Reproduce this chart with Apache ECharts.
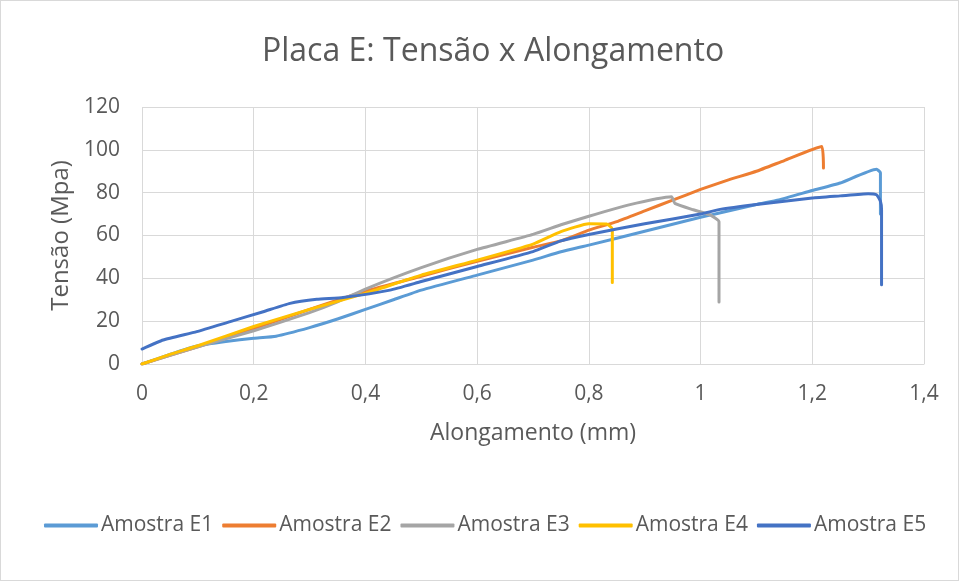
<!DOCTYPE html>
<html>
<head>
<meta charset="utf-8">
<script src="https://cdn.jsdelivr.net/npm/echarts@6/dist/echarts.min.js"></script>
<style>
  html, body { margin: 0; padding: 0; background: #ffffff; }
  #chart { width: 957px; height: 579px; border: 1px solid #D9D9D9; }
</style>
</head>
<body>
<div id="chart"></div>
<script>
// Stress vs. elongation curves for plate E, five specimens.
const seriesNames = ['Amostra E1', 'Amostra E2', 'Amostra E3', 'Amostra E4', 'Amostra E5'];
const seriesColors = ['#5B9BD5', '#ED7D31', '#A5A5A5', '#FFC000', '#4472C4'];

// [alongamento (mm), tensão (MPa)]
const amostraE1 = [
  [0, 0], [0.05, 4.5], [0.1, 8.5], [0.15, 10.5], [0.2, 12], [0.24, 13], [0.3, 17],
  [0.35, 21], [0.4, 25.5], [0.45, 30], [0.5, 34.5], [0.6, 41.5], [0.7, 48.5],
  [0.75, 52.4], [0.8, 55.5], [0.9, 62], [1.0, 68.5], [1.03, 70.3], [1.1, 74.5],
  [1.14, 76.6], [1.2, 81], [1.25, 84.5], [1.315, 90.9], [1.322, 89.3], [1.322, 70]
];
const amostraE2 = [
  [0, 0], [0.05, 4], [0.1, 8], [0.2, 16.5], [0.3, 25.5], [0.4, 34], [0.5, 41],
  [0.6, 48], [0.7, 54.5], [0.75, 57.5], [0.8, 62.5], [0.85, 66.5], [0.9, 71.5],
  [0.95, 76.5], [1.0, 81.5], [1.05, 86], [1.1, 90], [1.15, 95], [1.217, 101.5], [1.22, 91.5]
];
const amostraE3 = [
  [0, 0], [0.05, 4], [0.1, 8], [0.2, 15.5], [0.3, 24], [0.35, 29], [0.4, 35],
  [0.5, 45], [0.6, 53.5], [0.7, 60.5], [0.75, 65], [0.8, 69], [0.87, 74.2],
  [0.948, 78.1], [0.954, 75], [0.987, 72], [1.017, 69.6], [1.033, 66.4], [1.033, 29]
];
const amostraE4 = [
  [0, 0], [0.05, 4.5], [0.1, 8.5], [0.2, 17.5], [0.3, 25.5], [0.4, 33], [0.5, 41.5],
  [0.6, 48.5], [0.7, 56], [0.75, 61.8], [0.8, 65.5], [0.832, 65.4], [0.842, 63], [0.842, 38]
];
const amostraE5 = [
  [0, 7], [0.038, 11.2], [0.098, 15.1], [0.158, 19.8], [0.217, 24.4], [0.265, 28.3],
  [0.313, 30.2], [0.36, 31.1], [0.444, 34.5], [0.5, 38.5], [0.6, 45.5], [0.7, 52.5],
  [0.75, 57.5], [0.8, 60.5], [0.9, 65.5], [1.0, 70], [1.035, 72.2], [1.1, 74.5],
  [1.2, 77.5], [1.25, 78.5], [1.3, 79.5], [1.315, 79], [1.322, 76], [1.324, 72], [1.324, 37]
];
const seriesData = [amostraE1, amostraE2, amostraE3, amostraE4, amostraE5];

const xTicks = { min: 0, max: 1.4, interval: 0.2 };
const yTicks = { min: 0, max: 120, interval: 20 };

const textColor = '#595959';
const gridColor = '#D9D9D9';
const fontFamily = '"Open Sans", sans-serif';

const chart = echarts.init(document.getElementById('chart'), null, { renderer: 'canvas' });

chart.setOption({
  animation: false,
  backgroundColor: '#ffffff',
  title: {
    text: 'Placa E: Tensão x Alongamento',
    left: 256,
    top: 30,
    textStyle: { fontFamily, fontSize: 32, fontWeight: 'normal', color: textColor }
  },
  grid: { left: 141, right: 34, top: 106, bottom: 216, containLabel: false },
  xAxis: {
    type: 'value',
    min: xTicks.min, max: xTicks.max, interval: xTicks.interval,
    name: 'Alongamento (mm)',
    nameLocation: 'middle',
    nameGap: 58,
    nameTextStyle: { fontFamily, fontSize: 23, color: textColor },
    axisLine: { show: true, lineStyle: { color: gridColor, width: 1 } },
    axisTick: { show: false },
    axisLabel: {
      fontFamily, fontSize: 21, color: textColor, margin: 20,
      formatter: v => String(Math.round(v * 10) / 10).replace('.', ',')
    },
    splitLine: { show: true, lineStyle: { color: gridColor, width: 1 } }
  },
  yAxis: {
    type: 'value',
    min: yTicks.min, max: yTicks.max, interval: yTicks.interval,
    name: 'Tensão (Mpa)',
    nameLocation: 'middle',
    nameGap: 66,
    nameRotate: 90,
    nameTextStyle: { fontFamily, fontSize: 24, color: textColor },
    axisLine: { show: false },
    axisTick: { show: false },
    axisLabel: { fontFamily, fontSize: 21, color: textColor, margin: 22 },
    splitLine: { show: true, lineStyle: { color: gridColor, width: 1 } }
  },
  legend: {
    bottom: 39,
    left: 38,
    itemWidth: 54,
    itemHeight: 4,
    itemGap: 9,
    icon: 'roundRect',
    textStyle: { fontFamily, fontSize: 21, color: textColor, padding: [0, 0, 0, -2] },
    data: seriesNames
  },
  series: seriesNames.map((name, i) => ({
    name,
    type: 'line',
    data: seriesData[i],
    showSymbol: false,
    smooth: 0.15,
    lineStyle: { color: seriesColors[i], width: 3, cap: 'round', join: 'round' },
    itemStyle: { color: seriesColors[i] },
    z: 2 + i
  }))
});
</script>
</body>
</html>
